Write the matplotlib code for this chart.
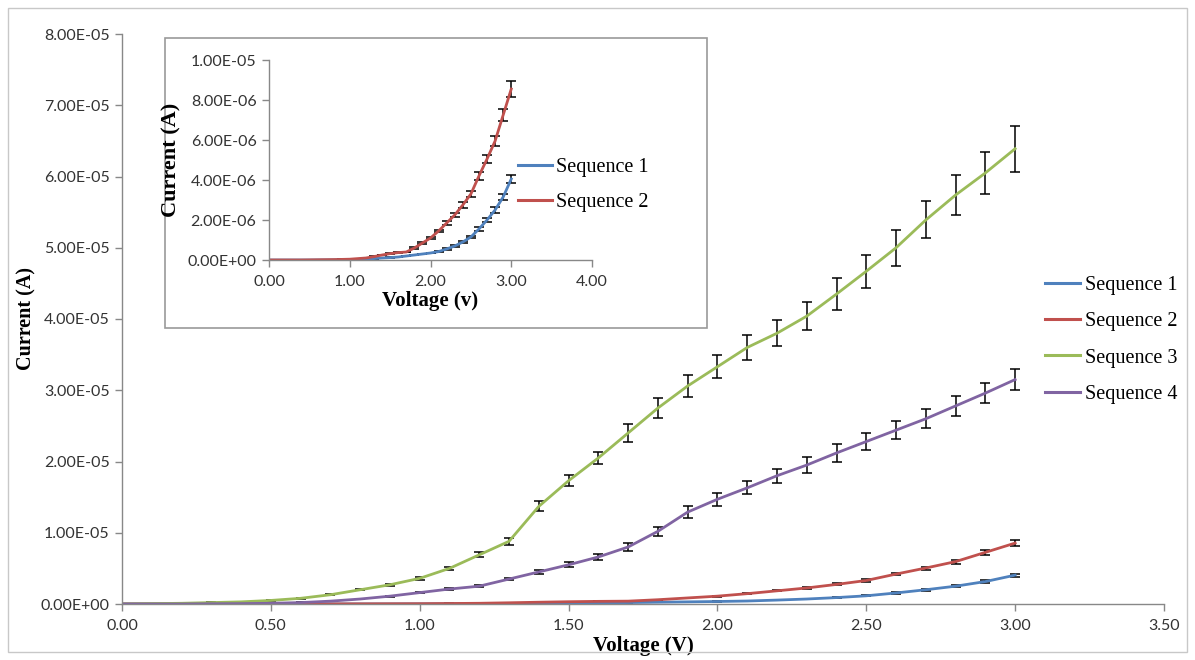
import numpy as np
import matplotlib
matplotlib.use("Agg")
import matplotlib.pyplot as plt
from matplotlib.ticker import FuncFormatter
from matplotlib.patches import Rectangle
from matplotlib.lines import Line2D

# ---------------- data ----------------
voltage = [round(0.1 * i, 1) for i in range(31)]

# Sequence 1 & 2 in micro-amps (x1e-6 A)
seq1_uA = [0, 0, 0, 0, 0, 0, 0.003, 0.005, 0.008, 0.01, 0.02, 0.03, 0.05, 0.07, 0.1,
           0.12, 0.15, 0.2, 0.25, 0.3, 0.35, 0.42, 0.55, 0.7, 0.9, 1.15, 1.55, 2.0, 2.5, 3.15, 4.05]
seq1_err_uA = [0, 0, 0, 0, 0, 0, 0.001, 0.001, 0.001, 0.001, 0.002, 0.003, 0.004, 0.005, 0.006,
               0.008, 0.01, 0.012, 0.015, 0.018, 0.02, 0.025, 0.03, 0.04, 0.05, 0.07, 0.09, 0.11, 0.13, 0.16, 0.2]
seq2_uA = [0, 0, 0, 0, 0, 0.005, 0.01, 0.015, 0.02, 0.03, 0.04, 0.07, 0.1, 0.17, 0.25,
           0.32, 0.37, 0.4, 0.6, 0.85, 1.1, 1.45, 1.85, 2.25, 2.75, 3.3, 4.2, 5.05, 5.95, 7.25, 8.55]
seq2_err_uA = [0, 0, 0, 0, 0, 0.001, 0.001, 0.001, 0.002, 0.002, 0.003, 0.004, 0.005, 0.008, 0.012,
               0.015, 0.018, 0.02, 0.03, 0.04, 0.06, 0.07, 0.09, 0.11, 0.14, 0.17, 0.18, 0.21, 0.27, 0.32, 0.4]

# Sequence 3 & 4 in units of 1e-5 A
seq3_e5 = [0, 0.005, 0.01, 0.02, 0.03, 0.05, 0.08, 0.13, 0.2, 0.27, 0.36, 0.5, 0.69, 0.88, 1.37,
           1.73, 2.05, 2.4, 2.75, 3.06, 3.33, 3.6, 3.8, 4.04, 4.35, 4.67, 5.0, 5.39, 5.74, 6.05, 6.39]
seq3_err_e5 = [0, 0.001, 0.002, 0.003, 0.004, 0.005, 0.006, 0.008, 0.01, 0.013, 0.018, 0.025, 0.035, 0.045, 0.07,
               0.08, 0.09, 0.12, 0.14, 0.16, 0.16, 0.18, 0.18, 0.2, 0.22, 0.23, 0.25, 0.26, 0.28, 0.3, 0.32]
seq4_e5 = [0, 0, 0, 0.003, 0.005, 0.01, 0.02, 0.04, 0.07, 0.11, 0.16, 0.21, 0.25, 0.35, 0.45,
           0.55, 0.66, 0.8, 1.02, 1.29, 1.47, 1.63, 1.8, 1.95, 2.12, 2.28, 2.44, 2.6, 2.78, 2.96, 3.15]
seq4_err_e5 = [0, 0, 0, 0.001, 0.001, 0.001, 0.002, 0.003, 0.005, 0.007, 0.01, 0.012, 0.015, 0.02, 0.03,
               0.035, 0.04, 0.05, 0.06, 0.08, 0.09, 0.09, 0.1, 0.11, 0.12, 0.12, 0.13, 0.13, 0.14, 0.14, 0.15]

labels = ["Sequence 1", "Sequence 2", "Sequence 3", "Sequence 4"]
colors = ["#4F81BD", "#C0504D", "#9BBB59", "#8064A2"]

x_ticks_main = [0.0, 0.5, 1.0, 1.5, 2.0, 2.5, 3.0, 3.5]
y_ticks_main = [i * 1e-5 for i in range(9)]
x_ticks_inset = [0, 1, 2, 3, 4]
y_ticks_inset = [i * 2e-6 for i in range(6)]

series = [
    (np.array(seq1_uA) * 1e-6, np.array(seq1_err_uA) * 1e-6),
    (np.array(seq2_uA) * 1e-6, np.array(seq2_err_uA) * 1e-6),
    (np.array(seq3_e5) * 1e-5, np.array(seq3_err_e5) * 1e-5),
    (np.array(seq4_e5) * 1e-5, np.array(seq4_err_e5) * 1e-5),
]

# ---------------- figure ----------------
W, H = 1195, 660
fig = plt.figure(figsize=(W / 100, H / 100), dpi=100)
fig.patch.set_facecolor("white")

TICK_FONT = "Lato"
SERIF = "Liberation Serif"
gray = "#888888"
TICK_FS = 11.5

# outer chart border
fig.add_artist(Rectangle((8 / W, 1 - 652 / H), (1187 - 8) / W, (652 - 8) / H,
                         transform=fig.transFigure, fill=False, ec="#c8c8c8", lw=1))

def px_axes(l, t, r, b):
    return fig.add_axes([l / W, 1 - b / H, (r - l) / W, (b - t) / H])

def style_axes(ax, tick_fs):
    for s in ["top", "right"]:
        ax.spines[s].set_visible(False)
    for s in ["left", "bottom"]:
        ax.spines[s].set_color(gray)
        ax.spines[s].set_linewidth(1)
    ax.tick_params(axis="both", direction="out", length=5, color=gray, width=1,
                   labelsize=tick_fs, labelcolor="#333333")
    ax.tick_params(axis="x", pad=6)
    ax.tick_params(axis="y", pad=4)
    for lab in ax.get_xticklabels() + ax.get_yticklabels():
        lab.set_fontfamily(TICK_FONT)

sci = FuncFormatter(lambda v, p: f"{v:.2E}")
two = FuncFormatter(lambda v, p: f"{v:.2f}")

# ---------------- main axes ----------------
ax = px_axes(122, 34, 1164, 604)
for (y, e), lab, c in zip(series, labels, colors):
    ax.errorbar(voltage, y, yerr=e, color=c, lw=2.0, ecolor="black", elinewidth=1.1,
                capsize=3.8, capthick=1.1)
ax.set_xlim(0, 3.5)
ax.set_ylim(0, 8e-5)
ax.set_xticks(x_ticks_main)
ax.set_yticks(y_ticks_main)
ax.xaxis.set_major_formatter(two)
ax.yaxis.set_major_formatter(sci)
style_axes(ax, TICK_FS)
ax.set_xlabel("Voltage (V)", fontfamily=SERIF, fontweight="bold", fontsize=15, labelpad=2)
ax.set_ylabel("Current (A)", fontfamily=SERIF, fontweight="bold", fontsize=14.5, labelpad=3)

proxies = [Line2D([], [], color=c, lw=2.2) for c in colors]
ax.legend(proxies, labels, loc="upper left", bbox_to_anchor=(1045 / W, 1 - 276 / H),
          bbox_transform=fig.transFigure, frameon=False, handlelength=1.75,
          handletextpad=0.25, labelspacing=0.85, borderpad=0.0, borderaxespad=0.0,
          prop={"family": SERIF, "size": 14.5})

# ---------------- inset ----------------
fig.add_artist(Rectangle((165 / W, 1 - 328 / H), (707 - 165) / W, (328 - 38) / H,
                         transform=fig.transFigure, fc="white", ec="#9a9a9a", lw=1.2, zorder=3))
ax2 = px_axes(269, 60, 592, 260)
ax2.set_zorder(4)
ax2.patch.set_alpha(0)
for (y, e), c in list(zip(series, colors))[:2]:
    ax2.errorbar(voltage, y, yerr=e, color=c, lw=2.0, ecolor="black", elinewidth=1.1,
                 capsize=3.8, capthick=1.1)
ax2.set_xlim(0, 4)
ax2.set_ylim(0, 1e-5)
ax2.set_xticks(x_ticks_inset)
ax2.set_yticks(y_ticks_inset)
ax2.xaxis.set_major_formatter(two)
ax2.yaxis.set_major_formatter(sci)
style_axes(ax2, TICK_FS)
ax2.set_xlabel("Voltage (v)", fontfamily=SERIF, fontweight="bold", fontsize=15, labelpad=1)
ax2.set_ylabel("Current (A)", fontfamily=SERIF, fontweight="bold", fontsize=16, labelpad=4)
ax2.legend(proxies[:2], labels[:2], loc="upper left", bbox_to_anchor=(518 / W, 1 - 158 / H),
           bbox_transform=fig.transFigure, frameon=False, handlelength=1.7,
           handletextpad=0.2, labelspacing=0.8, borderpad=0.0, borderaxespad=0.0,
           prop={"family": SERIF, "size": 14.5})

fig.savefig("out.png", dpi=100, facecolor="white")
